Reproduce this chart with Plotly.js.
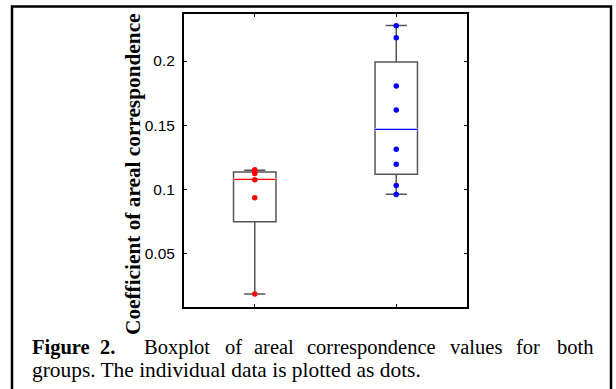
<!DOCTYPE html>
<html>
<head>
<meta charset="utf-8">
<script src="https://cdn.plot.ly/plotly-3.0.1.min.js"></script>
<style>
  html, body { margin: 0; padding: 0; background: #fff; }
  #chart { width: 616px; height: 389px; }
</style>
</head>
<body>
<div id="chart"></div>
<script>
// ---- data ----
const groups = [1, 2];
const q1 = [0.0747, 0.1116];
const median = [0.1077, 0.1467];
const q3 = [0.1134, 0.1992];
const lowerFence = [0.0183, 0.0960];
const upperFence = [0.1147, 0.2278];
const group1Points = [0.1151, 0.1136, 0.1122, 0.1074, 0.0934, 0.0183];
const group2Points = [0.2275, 0.2182, 0.1805, 0.1618, 0.1311, 0.1194, 0.1029, 0.0959];
const yTickVals = [0.05, 0.1, 0.15, 0.2];
const yTickText = ['0.05', '0.1', '0.15', '0.2'];
const yTitle = 'Coefficient of areal correspondence';
const captionWords = ['Figure', '2.', 'Boxplot', 'of', 'areal', 'correspondence', 'values', 'for', 'both'];
const captionLine2 = 'groups. The individual data is plotted as dots.';

// ---- layout helpers (pixel -> paper) ----
const L = 184, R = 467, T = 14, B = 307;
const px = v => (v - L) / (R - L);
const py = v => (B - v) / (B - T);

const boxColors = ['#ff0000', '#0000ff'];
const boxWidth = 0.3;
const serif = 'Liberation Serif, Times New Roman, serif';

const traces = [];
groups.forEach((g, i) => {
  traces.push({
    type: 'box', x: [g], q1: [q1[i]], median: [median[i]], q3: [q3[i]],
    lowerfence: [lowerFence[i]], upperfence: [upperFence[i]],
    width: boxWidth, whiskerwidth: 0.5,
    line: { color: '#555555', width: 1.5 },
    fillcolor: 'rgba(0,0,0,0)', boxpoints: false, hoverinfo: 'skip', showlegend: false
  });
});
groups.forEach((g, i) => {
  traces.push({
    type: 'scatter', mode: 'lines',
    x: [g - boxWidth / 2, g + boxWidth / 2], y: [median[i], median[i]],
    line: { color: '#ffffff', width: 2.5 }, showlegend: false, hoverinfo: 'skip'
  });
  traces.push({
    type: 'scatter', mode: 'lines',
    x: [g - boxWidth / 2, g + boxWidth / 2], y: [median[i], median[i]],
    line: { color: boxColors[i], width: 1.3 }, showlegend: false, hoverinfo: 'skip'
  });
});
[group1Points, group2Points].forEach((pts, i) => {
  traces.push({
    type: 'scatter', mode: 'markers',
    x: pts.map(() => groups[i]), y: pts,
    marker: { color: boxColors[i], size: 5.5 }, showlegend: false
  });
});

const captionX = [32.3, 99.5, 143.5, 225, 253.8, 307, 450, 516, 557];
const annotations = [];
captionWords.forEach((w, i) => {
  annotations.push({
    xref: 'paper', yref: 'paper', x: px(captionX[i] - 2), y: py(347),
    xanchor: 'left', yanchor: 'middle', showarrow: false,
    text: i < 2 ? '<b>' + w + '</b>' : w,
    font: { family: serif, size: 20.5, color: '#000' }
  });
});
annotations.push({
  xref: 'paper', yref: 'paper', x: px(32.3 - 2), y: py(370),
  xanchor: 'left', yanchor: 'middle', showarrow: false,
  text: captionLine2, font: { family: serif, size: 21.4, color: '#000' }
});
annotations.push({
  xref: 'paper', yref: 'paper', x: px(133), y: py(174),
  xanchor: 'center', yanchor: 'middle', showarrow: false, textangle: -90,
  text: '<b>' + yTitle + '</b>', font: { family: serif, size: 21.3, color: '#000' }
});

const layout = {
  width: 616, height: 389,
  margin: { l: L, r: 616 - R, t: T, b: 389 - B, pad: 0 },
  paper_bgcolor: '#fff', plot_bgcolor: '#fff',
  showlegend: false,
  xaxis: {
    range: [0.5, 2.5], tickvals: groups, showticklabels: false,
    ticks: 'inside', ticklen: 3, tickwidth: 1, tickcolor: '#000',
    showline: true, linecolor: '#000', linewidth: 2, mirror: 'ticks',
    showgrid: false, zeroline: false
  },
  yaxis: {
    range: [0.0081, 0.2367], tickvals: yTickVals, ticktext: yTickText,
    ticks: 'inside', ticklen: 3, tickwidth: 1, tickcolor: '#000',
    showline: true, linecolor: '#000', linewidth: 2, mirror: 'ticks',
    showgrid: false, zeroline: false, ticklabelstandoff: 4,
    tickfont: { family: 'Liberation Sans, Arial, sans-serif', size: 15.5, color: '#000' }
  },
  shapes: [{
    type: 'rect', xref: 'paper', yref: 'paper',
    x0: px(12), x1: px(611), y0: py(420), y1: py(6.5),
    line: { color: '#000', width: 2.5 }, fillcolor: 'rgba(0,0,0,0)', layer: 'above'
  }],
  annotations: annotations
};

Plotly.newPlot('chart', traces, layout, { staticPlot: true, displayModeBar: false });
</script>
</body>
</html>
